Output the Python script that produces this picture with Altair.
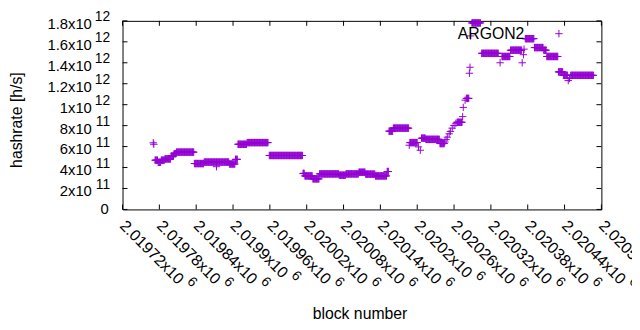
import altair as alt
import pandas as pd

# ---- data ----
series_name = "ARGON2"

# plateaus: first block, last block, hashrate (units of 1e11 h/s)
seg_start = [2019773, 2019778, 2019783, 2019789, 2019799, 2019804, 2019808, 2019837, 2019853, 2019894,
             2019904, 2019908, 2019923, 2019959, 2020014, 2020017, 2020030, 2020041, 2020073, 2020084,
             2020105, 2020116, 2020132, 2020151, 2020154, 2020161, 2020188, 2020207, 2020214, 2020237,
             2020265, 2020280, 2020289, 2020305, 2020338, 2020352, 2020376, 2020391, 2020406, 2020411,
             2020430, 2020438, 2020450]
seg_end = [2019777, 2019782, 2019788, 2019798, 2019803, 2019807, 2019836, 2019852, 2019893, 2019903,
           2019907, 2019922, 2019957, 2020013, 2020016, 2020029, 2020040, 2020072, 2020083, 2020104,
           2020115, 2020131, 2020150, 2020153, 2020160, 2020186, 2020200, 2020213, 2020236, 2020244,
           2020273, 2020284, 2020303, 2020332, 2020351, 2020370, 2020390, 2020405, 2020410, 2020429,
           2020437, 2020445, 2020487]
seg_value = [4.70, 4.50, 4.70, 4.82, 5.10, 5.32, 5.47, 4.38, 4.52, 4.34,
             4.78, 6.22, 6.38, 5.15, 3.44, 3.20, 2.92, 3.39, 3.27, 3.39,
             3.55, 3.37, 3.20, 3.62, 7.47, 7.76, 6.38, 6.80, 6.69, 6.29,
             8.32, 10.6, 17.8, 14.9, 14.6, 15.2, 16.3, 15.45, 15.2, 14.6,
             13.13, 12.8, 12.8]

# isolated points: block, hashrate (units of 1e11 h/s)
pt_block = [2019770, 2019771, 2019873, 2020187, 2020202, 2020205,
            2020245, 2020247, 2020249, 2020252, 2020254, 2020257, 2020260, 2020263,
            2020274, 2020275, 2020278, 2020285, 2020286, 2020287,
            2020335, 2020371, 2020373, 2020374, 2020446, 2020448]
pt_value = [6.36, 6.22, 4.08, 6.13, 5.97, 5.65,
            6.44, 6.66, 6.90, 7.22, 7.45, 7.76, 8.01, 8.23,
            8.86, 9.74, 10.43, 13.0, 13.57, 16.56,
            14.0, 14.0, 14.77, 15.3, 12.3, 12.5]

x_tick_values = [2019720, 2019780, 2019840, 2019900, 2019960, 2020020, 2020080,
                 2020140, 2020200, 2020260, 2020320, 2020380, 2020440, 2020500]
x_tick_bases = ["2.01972x10", "2.01978x10", "2.01984x10", "2.0199x10", "2.01996x10",
                "2.02002x10", "2.02008x10", "2.02014x10", "2.0202x10", "2.02026x10",
                "2.02032x10", "2.02038x10", "2.02044x10", "2.0205x10"]
x_tick_exps = ["6"] * 14
y_tick_values = [0, 2e11, 4e11, 6e11, 8e11, 1e12, 1.2e12, 1.4e12, 1.6e12, 1.8e12]
y_tick_bases = ["0", "2x10", "4x10", "6x10", "8x10", "1x10", "1.2x10", "1.4x10", "1.6x10", "1.8x10"]
y_tick_exps = ["", "11", "11", "11", "11", "12", "12", "12", "12", "12"]

# ---- build tables ----
rows = []
for s, e, v in zip(seg_start, seg_end, seg_value):
    for b in range(s, e + 1):
        rows.append({"block": b, "hashrate": v * 1e11})
for b, v in zip(pt_block, pt_value):
    rows.append({"block": b, "hashrate": v * 1e11})
df = pd.DataFrame(rows)

W, H = 485, 191
COLOR = "#9400D3"
FONT = "Liberation Sans"
TICK = 5
PLUS = "M-1,0H1M0,-1V1"
YLBL = 15        # y tick label font size
XLBL = 16        # x tick label font size
EXP = 14         # exponent font size
XLAB_Y = H + 14  # anchor of rotated x labels (px below top of plot)
RAISE = 7.5
GAP = 4.5
R2 = 0.7071

X0, X1 = x_tick_values[0], x_tick_values[-1]
Y0, Y1 = y_tick_values[0], y_tick_values[-1]
BLOCKS_PER_PX = (X1 - X0) / W
RATE_PER_PX = (Y1 - Y0) / H

# advance widths (em) of Liberation Sans glyphs used in the labels
ADV = {".": 0.278, "x": 0.5}


def text_width(s, size):
    return sum(ADV.get(c, 0.556) for c in s) * size


xscale = alt.Scale(domain=[X0, X1], nice=False, zero=False)
yscale = alt.Scale(domain=[Y0, Y1], nice=False, zero=False)

x_axis = alt.Axis(values=x_tick_values, labels=False, title="block number",
                  titleFontSize=16, titleFontWeight="normal",
                  titleX=240, titleY=105, titleBaseline="middle", titleAlign="center")
y_axis = alt.Axis(values=y_tick_values, labels=False, title="hashrate [h/s]",
                  titleFontSize=16, titleFontWeight="normal", titleAngle=-90,
                  titleX=-107, titleY=100, titleBaseline="middle", titleAlign="center")


def X(field):
    return alt.X(field, scale=xscale, axis=x_axis)


def Y(field):
    return alt.Y(field, scale=yscale, axis=y_axis)


points = alt.Chart(df).mark_point(
    shape=PLUS, size=56, filled=False, stroke=COLOR, strokeWidth=1, opacity=1
).encode(x=X("block:Q"), y=Y("hashrate:Q"))

xt = pd.DataFrame({"block": x_tick_values})
yt = pd.DataFrame({"hashrate": y_tick_values})
bottom_ticks = alt.Chart(xt).mark_rule(color="black", strokeWidth=1).encode(
    x=X("block:Q"), y=alt.value(H), y2=alt.value(H - TICK))
top_ticks = alt.Chart(xt).mark_rule(color="black", strokeWidth=1).encode(
    x=X("block:Q"), y=alt.value(0), y2=alt.value(TICK))
left_ticks = alt.Chart(yt).mark_rule(color="black", strokeWidth=1).encode(
    y=Y("hashrate:Q"), x=alt.value(0), x2=alt.value(TICK))
right_ticks = alt.Chart(yt).mark_rule(color="black", strokeWidth=1).encode(
    y=Y("hashrate:Q"), x=alt.value(W - TICK), x2=alt.value(W))

# ---- y tick labels: mantissa x10 + raised exponent ----
ydf = pd.DataFrame({"hashrate": y_tick_values, "base": y_tick_bases, "exp": y_tick_exps})
y_with_exp = ydf[ydf["exp"] != ""]
y_plain = ydf[ydf["exp"] == ""]
exp_w = text_width("12", EXP)
y_base_text = alt.Chart(y_with_exp).mark_text(
    align="right", baseline="middle", fontSize=YLBL, font=FONT, color="black", dy=3
).encode(text="base:N", x=alt.value(-(12.5 + exp_w + 3)), y=Y("hashrate:Q"))
y_exp_text = alt.Chart(y_with_exp).mark_text(
    align="right", baseline="middle", fontSize=EXP, font=FONT, color="black", dy=-3.5
).encode(text="exp:N", x=alt.value(-12.5), y=Y("hashrate:Q"))
y_plain_text = alt.Chart(y_plain).mark_text(
    align="right", baseline="middle", fontSize=YLBL, font=FONT, color="black"
).encode(text="base:N", x=alt.value(-14), y=Y("hashrate:Q"))

# ---- x tick labels, rotated 45 degrees, exponent placed after the mantissa ----
xdf = pd.DataFrame({"block": x_tick_values, "base": x_tick_bases, "exp": x_tick_exps})
along = xdf["base"].map(lambda s: text_width(s, XLBL) + GAP)
xdf["lab_rate"] = (H - XLAB_Y) * RATE_PER_PX
xdf["exp_block"] = xdf["block"] + R2 * (along + RAISE) * BLOCKS_PER_PX
xdf["exp_rate"] = (H - (XLAB_Y + R2 * (along - RAISE))) * RATE_PER_PX
x_base_text = alt.Chart(xdf).mark_text(
    align="left", baseline="middle", angle=45, fontSize=XLBL, font=FONT, color="black"
).encode(text="base:N", x=X("block:Q"), y=Y("lab_rate:Q"))
x_exp_text = alt.Chart(xdf).mark_text(
    align="left", baseline="middle", angle=45, fontSize=EXP, font=FONT, color="black"
).encode(text="exp:N", x=X("exp_block:Q"), y=Y("exp_rate:Q"))

# ---- key ----
key_df = pd.DataFrame({"name": [series_name]})
key_text = alt.Chart(key_df).mark_text(
    align="right", baseline="middle", fontSize=16, font=FONT, color="black"
).encode(text="name:N", x=alt.value(407), y=alt.value(13))
key_point = alt.Chart(key_df).mark_point(
    shape=PLUS, size=56, filled=False, stroke=COLOR, strokeWidth=1, opacity=1
).encode(x=alt.value(442), y=alt.value(13))

chart = alt.layer(
    points, bottom_ticks, top_ticks, left_ticks, right_ticks,
    y_base_text, y_exp_text, y_plain_text, x_base_text, x_exp_text,
    key_text, key_point
).properties(
    width=W, height=H,
    padding={"left": 116, "top": 11, "right": 31, "bottom": 114},
    autosize=alt.AutoSizeParams(type="none"),
    background="white",
).configure_view(stroke="black", strokeWidth=1).configure_axis(
    domain=False, ticks=False, grid=False, labelFont=FONT, titleFont=FONT,
    labelColor="black", titleColor="black"
)

chart.save("out.html", embed_options={"renderer": "svg", "actions": False})
